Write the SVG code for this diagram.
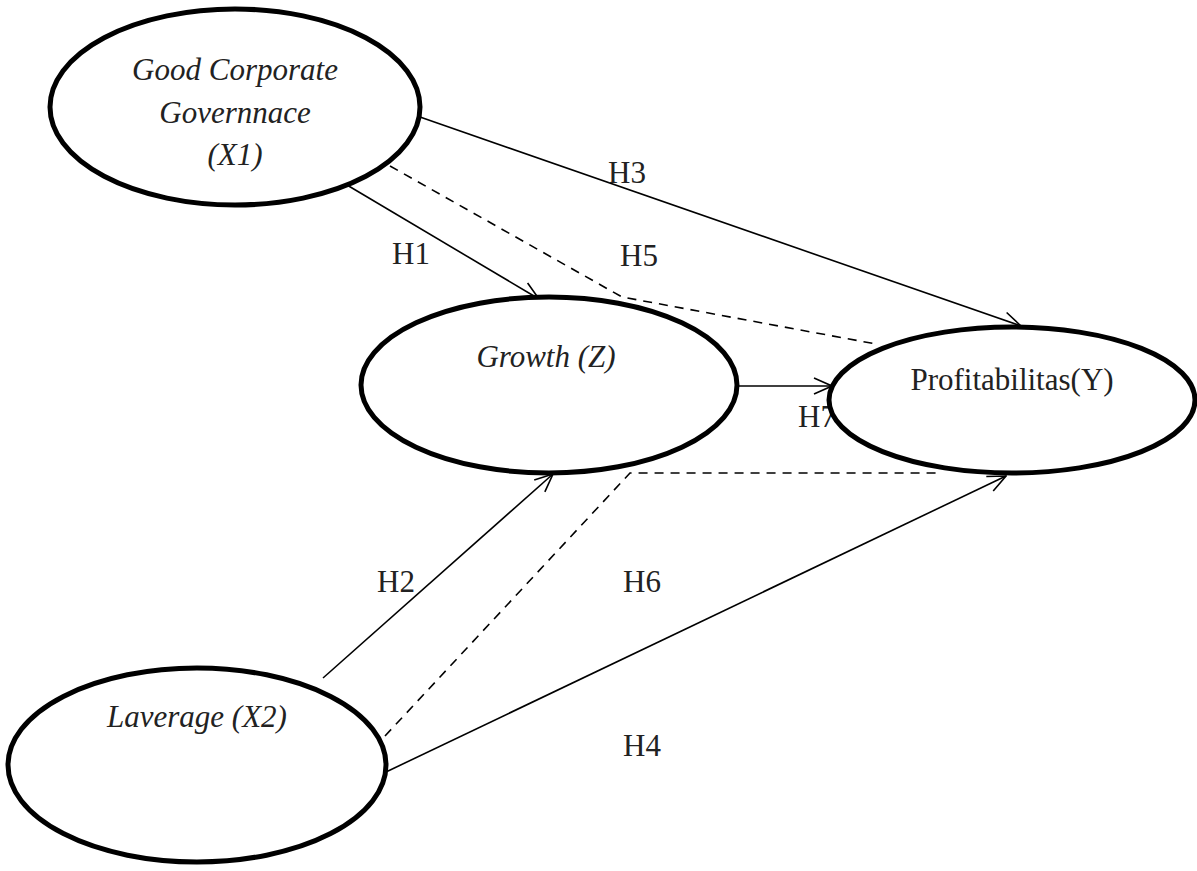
<svg xmlns="http://www.w3.org/2000/svg" width="1197" height="871" viewBox="0 0 1197 871">
<style>
.node{fill:#fff;stroke:#000;stroke-width:5}
.lbl{font-family:"Liberation Serif","Times New Roman",serif;font-size:31px;fill:#222}
.it{font-style:italic;text-anchor:middle}
.c{fill:none;stroke:#000;stroke-width:1.6}
.d{stroke-dasharray:9,7}
</style>
<defs>
<marker id="arr" viewBox="0 0 20 20" refX="19" refY="10" markerWidth="20" markerHeight="20" markerUnits="userSpaceOnUse" orient="auto">
<path d="M1,2 L19,10 L1,18" fill="none" stroke="#000" stroke-width="1.6"/>
</marker>
</defs>
<g id="connectors">
<line class="c" x1="347" y1="185" x2="539" y2="299" marker-end="url(#arr)"/>
<line class="c" x1="420" y1="117" x2="1021" y2="326" marker-end="url(#arr)"/>
<polyline class="c d" points="390,166 622,297 876,344"/>
<line class="c" x1="738" y1="386" x2="832" y2="386" marker-end="url(#arr)"/>
<line class="c" x1="323" y1="678" x2="553" y2="474" marker-end="url(#arr)"/>
<polyline class="c d" points="385,736 630,473 942,473"/>
<line class="c" x1="386" y1="772" x2="1006" y2="476" marker-end="url(#arr)"/>
</g>
<g id="labels">
<text class="lbl" x="608" y="183">H3</text>
<text class="lbl" x="392" y="264">H1</text>
<text class="lbl" x="620" y="266">H5</text>
<text class="lbl" x="798" y="427">H7</text>
<text class="lbl" x="377" y="592">H2</text>
<text class="lbl" x="623" y="592">H6</text>
<text class="lbl" x="623" y="756">H4</text>
</g>
<g id="x1">
<ellipse class="node" cx="235" cy="107" rx="185" ry="98"/>
<text class="lbl it" x="235" y="80">Good Corporate</text>
<text class="lbl it" x="235" y="123">Governnace</text>
<text class="lbl it" x="235" y="165">(X1)</text>
</g>
<g id="z">
<ellipse class="node" cx="549" cy="385" rx="188" ry="88"/>
<text class="lbl it" x="546" y="367">Growth (Z)</text>
</g>
<g id="y">
<ellipse class="node" cx="1012" cy="400" rx="183" ry="73"/>
<text class="lbl" x="1012" y="390" text-anchor="middle">Profitabilitas(Y)</text>
</g>
<g id="x2">
<ellipse class="node" cx="197" cy="765" rx="189" ry="97"/>
<text class="lbl it" x="197" y="727">Laverage (X2)</text>
</g>
</svg>
